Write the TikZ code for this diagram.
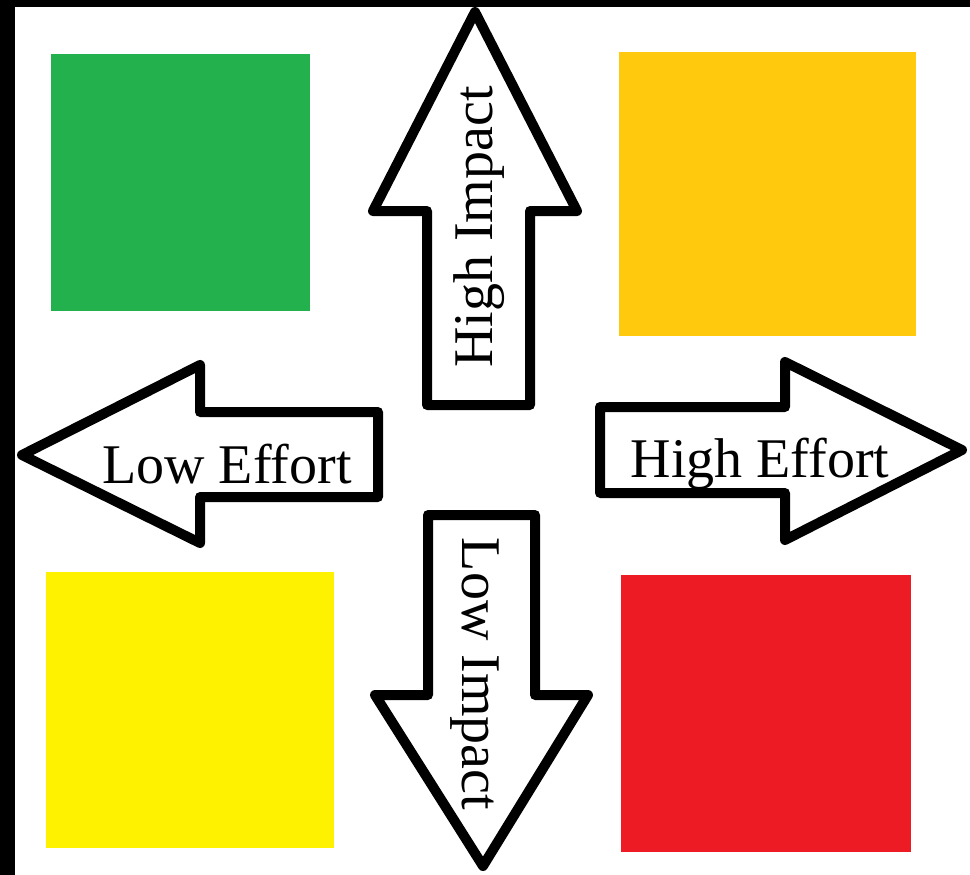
\documentclass[tikz,border=0pt]{standalone}
\usepackage{fontspec}
\setmainfont{Liberation Serif}
\definecolor{pgreen}{HTML}{22B14C}
\definecolor{porange}{HTML}{FFC90E}
\definecolor{pyellow}{HTML}{FFF200}
\definecolor{pred}{HTML}{ED1C24}
\tikzset{
  quad/.style={draw=none},
  arrowshape/.style={draw=black, fill=white, line width=10pt, line join=round},
  lbl/.style={inner sep=0pt, font=\fontsize{56}{60}\selectfont, anchor=base}
}
\begin{document}
\begin{tikzpicture}[x=1pt,y=-1pt]
\useasboundingbox (0,0) rectangle (970,875);
\fill[white] (0,0) rectangle (970,875);
% frame
\fill[black] (0,0) rectangle (970,7);
\fill[black] (0,0) rectangle (15,875);
% quadrants
\fill[pgreen] (51,54) rectangle (310,311);
\fill[porange] (619,52) rectangle (916,336);
\fill[pyellow] (46,572) rectangle (334,848);
\fill[pred] (621,575) rectangle (911,852);
% up arrow
\draw[arrowshape] (427,405) -- (427,211) -- (373,211) -- (475,12) -- (577,211) -- (530,211) -- (530,405) -- cycle;
% down arrow
\draw[arrowshape] (428,515) -- (428,695) -- (375,695) -- (483,866) -- (588,695) -- (535,695) -- (535,515) -- cycle;
% left arrow
\draw[arrowshape] (378,412) -- (200,412) -- (200,365) -- (22,455) -- (200,543) -- (200,497) -- (378,497) -- cycle;
% right arrow
\draw[arrowshape] (600,407) -- (785,407) -- (785,362) -- (962,450) -- (785,540) -- (785,493) -- (600,493) -- cycle;
% labels
\node[lbl] (he) at (760,477) {High Effort};
\node[lbl] (le) at (227,483) {Low Effort};
\node[lbl, rotate=90] (hi) at (492,227) {High Impact};
\node[lbl, rotate=-90] (li) at (462,674) {Low Impact};
\end{tikzpicture}
\end{document}
